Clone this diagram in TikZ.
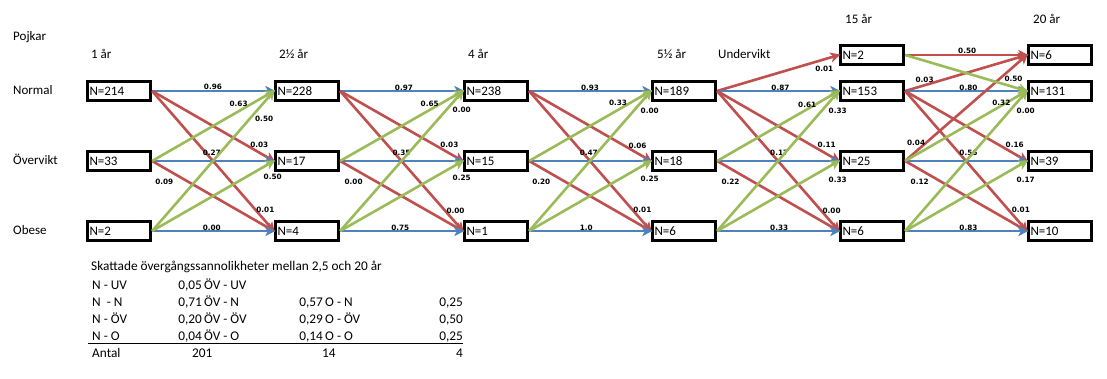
\documentclass[tikz,border=0pt]{standalone}
\usepackage{fontspec}
\setmainfont{Carlito}
\newfontfamily\lblfont{DejaVu Sans}
\usetikzlibrary{arrows.meta}
\definecolor{edgeblue}{RGB}{79,129,189}
\definecolor{edgered}{RGB}{192,80,77}
\definecolor{edgegreen}{RGB}{155,187,89}

\begin{document}
\begin{tikzpicture}[x=1pt,y=-1pt,font=\fontsize{13}{15}\selectfont,
    main node/.style={draw,line width=3.2pt,fill=white,minimum width=63pt,minimum height=18.5pt,inner sep=1pt,text width=59pt,align=left},
    txt/.style={anchor=base west,inner sep=0pt},
    tab/.style={txt,font=\fontsize{13.3}{15}\selectfont},
    lbl/.style={font=\lblfont\bfseries\fontsize{7.3}{9}\selectfont,inner sep=0pt},
    blue edge/.style={draw=edgeblue,line width=2.6pt,-{Stealth[length=10pt,width=10pt,inset=2.5pt]},shorten >=-1.5pt},
    red edge/.style={blue edge,draw=edgered},
    green edge/.style={blue edge,draw=edgegreen}]
                \useasboundingbox (0,0) rectangle (1107,379);
                % headings
                \node[txt] at (13,41) (pojkar) {Pojkar};
                \node[txt] at (13,95) (rnorm) {Normal};
                \node[txt] at (13,165) (rover) {Övervikt};
                \node[txt] at (13,235) (robes) {Obese};
                \node[txt] at (91,59) (h1) {1 år};
                \node[txt] at (279,59) (h2) {2½ år};
                \node[txt] at (468,59) (h3) {4 år};
                \node[txt] at (657,59) (h4) {5½ år};
                \node[txt] at (718,59) (hund) {Undervikt};
                \node[txt] at (845,24) (h5) {15 år};
                \node[txt] at (1033,24) (h6) {20 år};

                % boxes
                \node[main node] at (119,91) (n1) {N=214};
                \node[main node] at (119,161) (v1) {N=33};
                \node[main node] at (119,231) (o1) {N=2};
                \node[main node] at (307,91) (n2) {N=228};
                \node[main node] at (307,161) (v2) {N=17};
                \node[main node] at (307,231) (o2) {N=4};
                \node[main node] at (496,91) (n3) {N=238};
                \node[main node] at (496,161) (v3) {N=15};
                \node[main node] at (496,231) (o3) {N=1};
                \node[main node] at (684,91) (n4) {N=189};
                \node[main node] at (684,161) (v4) {N=18};
                \node[main node] at (684,231) (o4) {N=6};
                \node[main node] at (872,55) (u5) {N=2};
                \node[main node] at (872,91) (n5) {N=153};
                \node[main node] at (872,161) (v5) {N=25};
                \node[main node] at (872,231) (o5) {N=6};
                \node[main node] at (1060,55) (u6) {N=6};
                \node[main node] at (1060,91) (n6) {N=131};
                \node[main node] at (1060,161) (v6) {N=39};
                \node[main node] at (1060,231) (o6) {N=10};

                % 1 -> 2.5
                \draw[blue edge] (n1.east) -- node[lbl,pos=.5,yshift=4pt] (a1) {0.96} (n2.west);
                \draw[red edge] (n1.east) -- node[lbl,pos=.88,yshift=7.5pt] (a2) {0.03} (v2.west);
                \draw[red edge] (n1.east) -- node[lbl,pos=.93,yshift=11pt] (a3) {0.01} (o2.west);
                \draw[blue edge] (v1.east) -- node[lbl,pos=.49,yshift=8pt] (a5) {0.27} (v2.west);
                \draw[red edge] (v1.east) -- node[lbl,pos=.1,yshift=-14pt] (a6) {0.09} (o2.west);
                \draw[blue edge] (o1.east) -- node[lbl,pos=.49,yshift=3pt] (a9) {0.00} (o2.west);
                \draw[green edge] (v1.east) -- node[lbl,pos=.71,yshift=7pt] (a4) {0.63} (n2.west);
                \draw[green edge] (o1.east) -- node[lbl,pos=.92,yshift=-17pt] (a7) {0.50} (n2.west);
                \draw[green edge] (o1.east) -- node[lbl,pos=.99,yshift=-15.5pt] (a8) {0.50} (v2.west);

                % 2.5 -> 4
                \draw[blue edge] (n2.east) -- node[lbl,pos=.52,yshift=3pt] (b1) {0.97} (n3.west);
                \draw[red edge] (n2.east) -- node[lbl,pos=.89,yshift=8pt] (b2) {0.03} (v3.west);
                \draw[red edge] (n2.east) -- node[lbl,pos=.94,yshift=12pt] (b3) {0.00} (o3.west);
                \draw[blue edge] (v2.east) -- node[lbl,pos=.5,yshift=8pt] (b5) {0.35} (v3.west);
                \draw[red edge] (v2.east) -- node[lbl,pos=.11,yshift=-13pt] (b6) {0.00} (o3.west);
                \draw[blue edge] (o2.east) -- node[lbl,pos=.49,yshift=3pt] (b9) {0.75} (o3.west);
                \draw[green edge] (v2.east) -- node[lbl,pos=.73,yshift=6pt] (b4) {0.65} (n3.west);
                \draw[green edge] (o2.east) -- node[lbl,pos=.99,yshift=-17pt] (b7) {0.00} (n3.west);
                \draw[green edge] (o2.east) -- node[lbl,pos=.99,yshift=-16pt] (b8) {0.25} (v3.west);

                % 4 -> 5.5
                \draw[blue edge] (n3.east) -- node[lbl,pos=.5,yshift=3pt] (c1) {0.93} (n4.west);
                \draw[red edge] (n3.east) -- node[lbl,pos=.89,yshift=7pt] (c2) {0.06} (v4.west);
                \draw[red edge] (n3.east) -- node[lbl,pos=.93,yshift=11pt] (c3) {0.01} (o4.west);
                \draw[blue edge] (v3.east) -- node[lbl,pos=.49,yshift=8pt] (c5) {0.47} (v4.west);
                \draw[red edge] (v3.east) -- node[lbl,pos=.1,yshift=-14pt] (c6) {0.20} (o4.west);
                \draw[blue edge] (o3.east) -- node[lbl,pos=.47,yshift=3pt] (c9) {1.0} (o4.west);
                \draw[green edge] (v3.east) -- node[lbl,pos=.73,yshift=7pt] (c4) {0.33} (n4.west);
                \draw[green edge] (o3.east) -- node[lbl,pos=.99,yshift=-18pt] (c7) {0.00} (n4.west);
                \draw[green edge] (o3.east) -- node[lbl,pos=.99,yshift=-17pt] (c8) {0.25} (v4.west);

                % 5.5 -> 15
                \draw[red edge] (n4.east) -- node[lbl,pos=.88,yshift=-9.5pt] (d0) {0.01} (u5.west);
                \draw[blue edge] (n4.east) -- node[lbl,pos=.52,yshift=3pt] (d1) {0.87} (n5.west);
                \draw[red edge] (n4.east) -- node[lbl,pos=.9,yshift=9pt] (d2) {0.11} (v5.west);
                \draw[red edge] (n4.east) -- node[lbl,pos=.94,yshift=11.5pt] (d3) {0.00} (o5.west);
                \draw[blue edge] (v4.east) -- node[lbl,pos=.51,yshift=8pt] (d5) {0.17} (v5.west);
                \draw[red edge] (v4.east) -- node[lbl,pos=.11,yshift=-13pt] (d6) {0.22} (o5.west);
                \draw[blue edge] (o4.east) -- node[lbl,pos=.51,yshift=3pt] (d9) {0.33} (o5.west);
                \draw[green edge] (v4.east) -- node[lbl,pos=.74,yshift=4pt] (d4) {0.61} (n5.west);
                \draw[green edge] (o4.east) -- node[lbl,pos=.99,yshift=-18pt] (d7) {0.33} (n5.west);
                \draw[green edge] (o4.east) -- node[lbl,pos=.99,yshift=-18pt] (d8) {0.33} (v5.west);

                % 15 -> 20
                \draw[red edge] (u5.east) -- node[lbl,pos=.51,yshift=4pt] (e0) {0.50} (u6.west);
                \draw[red edge] (n5.east) -- node[lbl,pos=.16,yshift=5pt] (e1) {0.03} (u6.west);
                \draw[blue edge] (n5.east) -- node[lbl,pos=.52,yshift=3pt] (e2) {0.80} (n6.west);
                \draw[red edge] (n5.east) -- node[lbl,pos=.9,yshift=9pt] (e3) {0.16} (v6.west);
                \draw[red edge] (n5.east) -- node[lbl,pos=.95,yshift=14pt] (e4) {0.01} (o6.west);
                \draw[red edge] (v5.east) -- node[lbl,pos=.09,yshift=8.5pt] (e5) {0.04} (u6.west);
                \draw[blue edge] (v5.east) -- node[lbl,pos=.52,yshift=8pt] (e7) {0.56} (v6.west);
                \draw[red edge] (v5.east) -- node[lbl,pos=.12,yshift=-12.5pt] (e8) {0.12} (o6.west);
                \draw[blue edge] (o5.east) -- node[lbl,pos=.52,yshift=3pt] (e11) {0.83} (o6.west);
                \draw[green edge] (u5.east) -- node[lbl,pos=.89,yshift=8pt] (e12) {0.50} (n6.west);
                \draw[green edge] (v5.east) -- node[lbl,pos=.79,yshift=3pt] (e6) {0.32} (n6.west);
                \draw[green edge] (o5.east) -- node[lbl,pos=.99,yshift=-18pt] (e9) {0.00} (n6.west);
                \draw[green edge] (o5.east) -- node[lbl,pos=.99,yshift=-18pt] (e10) {0.17} (v6.west);

                % table
                \node[tab] at (91,270) (ttl) {Skattade övergångssannolikheter mellan 2,5 och 20 år};
                \node[tab] at (92,289) (t1a) {N - UV};
                \node[tab,anchor=base east] at (202,289) (t1b) {0,05};
                \node[tab] at (204,289) (t1c) {ÖV - UV};
                \node[tab] at (92,306) (t2a) {N~ - N};
                \node[tab,anchor=base east] at (202,306) (t2b) {0,71};
                \node[tab] at (204,306) (t2c) {ÖV - N};
                \node[tab,anchor=base east] at (323,306) (t2d) {0,57};
                \node[tab] at (325,306) (t2e) {O - N};
                \node[tab,anchor=base east] at (463,306) (t2f) {0,25};
                \node[tab] at (92,323) (t3a) {N - ÖV};
                \node[tab,anchor=base east] at (202,323) (t3b) {0,20};
                \node[tab] at (204,323) (t3c) {ÖV - ÖV};
                \node[tab,anchor=base east] at (323,323) (t3d) {0,29};
                \node[tab] at (325,323) (t3e) {O - ÖV};
                \node[tab,anchor=base east] at (463,323) (t3f) {0,50};
                \node[tab] at (92,340) (t4a) {N - O};
                \node[tab,anchor=base east] at (202,340) (t4b) {0,04};
                \node[tab] at (204,340) (t4c) {ÖV - O};
                \node[tab,anchor=base east] at (323,340) (t4d) {0,14};
                \node[tab] at (325,340) (t4e) {O - O};
                \node[tab,anchor=base east] at (463,340) (t4f) {0,25};
                \draw[line width=1pt] (88,343.5) -- (463,343.5);
                \node[tab] at (92,357) (t5a) {Antal};
                \node[tab] at (192,357) (t5b) {201};
                \node[tab] at (322,357) (t5c) {14};
                \node[tab,anchor=base east] at (463,357) (t5d) {4};

            \end{tikzpicture}
\end{document}
